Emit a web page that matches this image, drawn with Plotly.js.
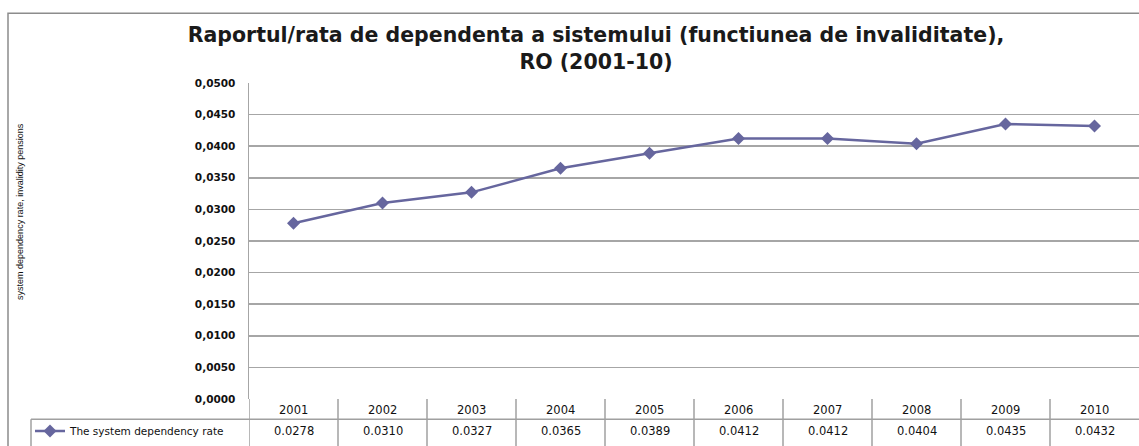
<!DOCTYPE html>
<html>
<head>
<meta charset="utf-8">
<script src="https://cdn.plot.ly/plotly-3.0.1.min.js"></script>
<style>html,body{margin:0;padding:0;background:#fff;}#chart{width:1139px;height:446px;}</style>
</head>
<body>
<div id="chart"></div>
<script>
const years = ['2001','2002','2003','2004','2005','2006','2007','2008','2009','2010'];
const rates = [0.0278, 0.0310, 0.0327, 0.0365, 0.0389, 0.0412, 0.0412, 0.0404, 0.0435, 0.0432];
const rateLabels = ['0.0278','0.0310','0.0327','0.0365','0.0389','0.0412','0.0412','0.0404','0.0435','0.0432'];
const seriesName = 'The system dependency rate';
const chartTitle = 'Raportul/rata de dependenta a sistemului (functiunea de invaliditate),<br>RO (2001-10)';
const yTitle = 'system dependency rate, invalidity pensions';

const W = 1139, H = 446;
const L = 249, R = 0, T = 83, B = 37;
const pw = W - L - R, ph = H - T - B;
const px = v => (v - L) / pw;          // pixel x -> paper
const py = v => (H - B - v) / ph;      // pixel y -> paper

const lineColor = '#66669e';
const gridColor = '#a6a6a6';
const tblColor = '#a0a0a0';

const idx = years.map((_, i) => i);

const trace = {
  x: idx, y: rates, type: 'scatter', mode: 'lines+markers', name: seriesName,
  line: {color: lineColor, width: 2.5},
  marker: {symbol: 'diamond', size: 10, color: lineColor},
  showlegend: true, hoverinfo: 'skip'
};

const shapes = [];
const annotations = [];
// outer chart border
shapes.push({type:'rect', xref:'paper', yref:'paper', x0:px(8), x1:px(1200), y0:py(520), y1:py(11),
  line:{color:'#8c8c8c', width:1.5}, fillcolor:'rgba(0,0,0,0)', layer:'below'});
// table horizontal line between header and data row
shapes.push({type:'line', xref:'paper', yref:'paper', x0:px(31), x1:1.01, y0:py(430), y1:py(430), line:{color:tblColor, width:1.5}});
// legend cell left border
shapes.push({type:'line', xref:'paper', yref:'paper', x0:px(31), x1:px(31), y0:py(430), y1:py(500), line:{color:tblColor, width:1.5}});
// vertical column separators
for (let i = 0; i < years.length; i++) {
  shapes.push({type:'line', xref:'x', yref:'paper', x0:i-0.5, x1:i-0.5, y0:py(409), y1:py(500), line:{color:tblColor, width:1.5}});
}
years.forEach((yr, i) => {
  annotations.push({xref:'x', yref:'paper', x:i, y:py(420), text:yr, showarrow:false,
    font:{family:'DejaVu Sans', size:11.5, color:'#111'}, xanchor:'center', yanchor:'middle'});
  annotations.push({xref:'x', yref:'paper', x:i, y:py(442), text:rateLabels[i], showarrow:false,
    font:{family:'DejaVu Sans', size:11.5, color:'#111'}, xanchor:'center', yanchor:'middle'});
});
annotations.push({xref:'paper', yref:'paper', x:px(20), y:py(216), text:yTitle, textangle:-90, showarrow:false,
  font:{family:'Liberation Sans Narrow, Liberation Sans', size:9, color:'#111'}, xanchor:'center', yanchor:'middle'});

const layout = {
  width: W, height: H,
  margin: {l: L, r: R, t: T, b: B, pad: 0},
  paper_bgcolor: '#fff', plot_bgcolor: '#fff',
  separators: ',.',
  title: {text: chartTitle, x: px(596), xref:'paper', xanchor:'center', y: 1 - 42/H, yanchor:'top',
    font: {family: 'DejaVu Sans', size: 20.5, color: '#1a1a1a', weight: 'bold'}},
  xaxis: {range: [-0.5, years.length - 0.5], showgrid: false, zeroline: false, showticklabels: false,
    showline: false, ticks: '', fixedrange: true},
  yaxis: {range: [0, 0.05], dtick: 0.005, tick0: 0, tickformat: '.4f', showgrid: true, gridcolor: gridColor, gridwidth: 1.5,
    zeroline: false, showline: true, linecolor: gridColor, linewidth: 1.5, ticks: '',
    tickfont: {family: 'DejaVu Sans', size: 10.5, color: '#111', weight: 'bold'}, ticklabelstandoff: 10, fixedrange: true},
  showlegend: true,
  legend: {x: px(30), y: py(442), xanchor: 'left', yanchor: 'middle', bgcolor: 'rgba(0,0,0,0)',
    font: {family: 'DejaVu Sans', size: 10.5, color: '#111'}, itemwidth: 30, tracegroupgap: 0},
  shapes: shapes, annotations: annotations
};

Plotly.newPlot('chart', [trace], layout, {displayModeBar: false, staticPlot: true});
</script>
</body>
</html>
